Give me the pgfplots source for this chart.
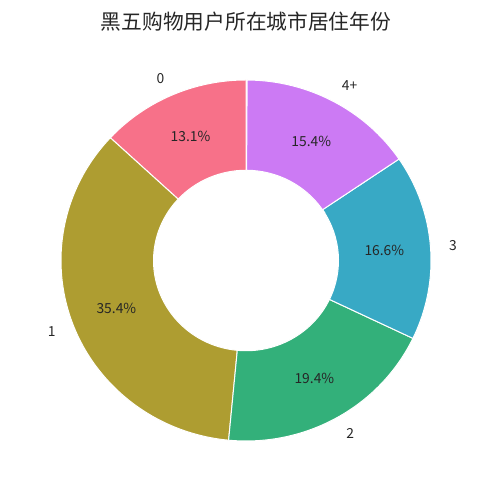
\documentclass[border=0pt]{standalone}
\usepackage{pgfplots}
\pgfplotsset{compat=1.18}
\usepackage{pgfplotstable}
\usepackage{fontspec}
\setmainfont{Noto Sans CJK SC}

\definecolor{c0}{HTML}{F77189}
\definecolor{c1}{HTML}{AE9D31}
\definecolor{c2}{HTML}{33B07A}
\definecolor{c3}{HTML}{38A9C5}
\definecolor{c4}{HTML}{CC7AF4}
\definecolor{txt}{HTML}{262626}

% share of each group, percent
\pgfplotstableread{
label pct
0 13.1
1 35.4
2 19.4
3 16.6
4+ 15.4
}\data

\begin{document}
\begin{tikzpicture}[x=1bp,y=1bp]
\path[use as bounding box] (0,0) rectangle (492,501);
\node[txt, font=\fontsize{20.8}{24}\selectfont] at (246,479) {黑五购物用户所在城市居住年份};
\begin{axis}[
  at={(246bp,240.5bp)}, anchor=center,
  width=370bp, height=361bp, scale only axis,
  xmin=-1, xmax=1, ymin=-1, ymax=1,
  hide axis, clip=false,
]
\def\cum{0}
\pgfplotsforeachungrouped \i in {0,...,4}{
  \pgfplotstablegetelem{\i}{pct}\of\data \let\p\pgfplotsretval
  \pgfplotstablegetelem{\i}{label}\of\data \let\lab\pgfplotsretval
  \pgfmathsetmacro\aa{90+3.6*\cum}
  \pgfmathsetmacro\ab{90+3.6*(\cum+\p)}
  \pgfmathsetmacro\am{(\aa+\ab)/2}
  \pgfmathsetmacro\cum{\cum+\p}
  \pgfmathsetmacro\lx{1.1*cos(\am)}
  \pgfmathsetmacro\ly{1.1*sin(\am)}
  \pgfmathsetmacro\px{0.75*cos(\am)}
  \pgfmathsetmacro\py{0.75*sin(\am)}
  \ifdim\lx pt<0pt \def\anc{east}\else\def\anc{west}\fi
  \edef\temp{\noexpand\fill[c\i, draw=white, line width=1bp]
    (axis cs:{0.5*cos(\aa)},{0.5*sin(\aa)}) -- (axis cs:{cos(\aa)},{sin(\aa)})
    arc[start angle=\aa, end angle=\ab, x radius=185bp, y radius=180.5bp]
    -- (axis cs:{0.5*cos(\ab)},{0.5*sin(\ab)})
    arc[start angle=\ab, end angle=\aa, x radius=92.5bp, y radius=90.25bp] -- cycle;
    \noexpand\node[txt, anchor=\anc, inner sep=0pt, font=\noexpand\fontsize{13.9}{16}\noexpand\selectfont] at (axis cs:\lx,\ly) {\lab};
    \noexpand\node[txt, inner sep=0pt, font=\noexpand\fontsize{13.9}{16}\noexpand\selectfont] at (axis cs:\px,\py) {\p\noexpand\%};}
  \temp
}
\end{axis}
\end{tikzpicture}
\end{document}
